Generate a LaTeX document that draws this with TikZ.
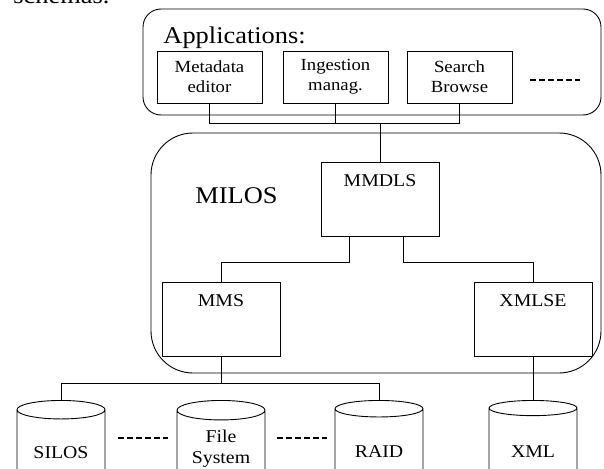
\documentclass[tikz,border=0pt]{standalone}
\usepackage{fontspec}
\setmainfont{Liberation Serif}[FakeStretch=1.1]
\usetikzlibrary{shapes.geometric}
\usetikzlibrary{calc}
\tikzstyle{appbox}=[draw, line width=0.9pt, minimum width=105, minimum height=52, align=center, font=\fontsize{17}{20}\selectfont]
\tikzstyle{modbox}=[draw, line width=0.9pt, minimum width=118, inner sep=4pt, text height=20pt, text depth=46pt, anchor=north, font=\fontsize{18}{21}\selectfont]
\tikzstyle{store}=[draw, line width=0.9pt, cylinder, shape border rotate=90, aspect=0.3, minimum width=88, minimum height=82, anchor=north, align=center, font=\fontsize{18}{21}\selectfont]
\tikzstyle{etc}=[line width=1.6pt, dash pattern=on 6pt off 3pt]
\newcommand{\bigfont}{\fontsize{24}{28}\selectfont}

\begin{document}
\begin{tikzpicture}[x=1pt, y=-1pt, line width=0.9pt]
\useasboundingbox (0,0) rectangle (604,468);
\node[anchor=base west, font=\bigfont, inner sep=0] (schemas) at (13,4) {schemas.};
% applications layer
\draw[rounded corners=18] (143,9) rectangle (601,115);
\node[anchor=base west, font=\bigfont, inner sep=0] (apps) at (163,44) {Applications:};
\node[appbox] (meta) at (209.5,77) {Metadata\\editor};
\node[appbox] (ingest) at (335.5,77) {Ingestion\\manag.};
\node[appbox] (search) at (459.5,77) {Search\\Browse};
\draw[etc] (530,80) -- (580,80);
% milos
\draw[rounded corners=42] (151,133) rectangle (601,373);
\node[anchor=base west, font=\bigfont, inner sep=0] (milos) at (195,203) {MILOS};
\node[modbox] (mmdls) at (380,162) {MMDLS};
\node[modbox] (mms) at (221,282) {MMS};
\node[modbox] (xmlse) at (533,282) {XMLSE};
% storage
\node[store] (silos) at (61,400) {~\\SILOS};
\node[store] (files) at (221,400) {File\\System};
\node[store] (raid) at (379,400) {~\\RAID};
\node[store] (xml) at (533,400) {~\\XML};
\draw[etc] (118,438) -- (168,438);
\draw[etc] (277,438) -- (327,438);
% wiring
\coordinate (upbus) at (mmdls.north |- 0,123);
\coordinate (lowbus) at (mms.south |- 0,383);
\draw (meta.south) -- (meta.south |- upbus) -- (search.south |- upbus) -- (search.south);
\draw (ingest.south) -- (ingest.south |- upbus);
\draw (upbus) -- (mmdls.north);
\draw ([xshift=-31pt]mmdls.south) -- ++(0,26) -| (mms.north);
\draw ([xshift=23pt]mmdls.south) -- ++(0,26) -| (xmlse.north);
\draw (mms.south) -- (lowbus);
\draw (silos.north) -- (silos.north |- lowbus) -- (raid.north |- lowbus) -- (raid.north);
\draw (xmlse.south) -- (xml.north);
\end{tikzpicture}
\end{document}
